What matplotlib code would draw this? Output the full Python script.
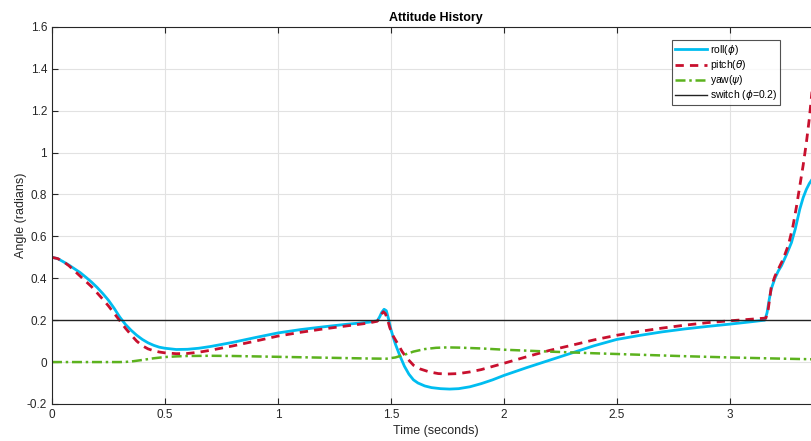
import matplotlib.pyplot as plt

plt.rcParams['font.family'] = ['Liberation Sans', 'DejaVu Sans']
plt.rcParams['mathtext.fontset'] = 'dejavusans'

# roll (phi)
t_roll = [0, 0.025, 0.05, 0.075, 0.1, 0.125, 0.15, 0.175, 0.2, 0.225, 0.25,
          0.275, 0.3, 0.325, 0.35, 0.375, 0.4, 0.425, 0.45, 0.475, 0.5, 0.55,
          0.6, 0.65, 0.7, 0.8, 0.9, 1.0, 1.1, 1.2, 1.3, 1.4, 1.44, 1.45, 1.46,
          1.47, 1.48, 1.49, 1.5, 1.51, 1.52, 1.54, 1.56, 1.58, 1.6, 1.62, 1.65,
          1.68, 1.72, 1.76, 1.8, 1.85, 1.9, 1.95, 2.0, 2.1, 2.2, 2.3, 2.4, 2.5,
          2.6, 2.7, 2.8, 2.9, 3.0, 3.1, 3.155, 3.165, 3.175, 3.184, 3.2, 3.215,
          3.229, 3.25, 3.273, 3.29, 3.31, 3.325, 3.339, 3.352, 3.363, 3.38]
roll = [0.5, 0.494, 0.479, 0.463, 0.445, 0.427, 0.405, 0.382, 0.356, 0.327,
        0.295, 0.257, 0.215, 0.18, 0.152, 0.128, 0.108, 0.092, 0.08, 0.071,
        0.066, 0.06, 0.061, 0.066, 0.074, 0.094, 0.117, 0.139, 0.155, 0.168,
        0.18, 0.19, 0.197, 0.215, 0.238, 0.252, 0.245, 0.205, 0.157, 0.12,
        0.086, 0.03, -0.02, -0.058, -0.085, -0.1, -0.114, -0.122, -0.127,
        -0.129, -0.127, -0.118, -0.103, -0.085, -0.064, -0.027, 0.008, 0.043,
        0.078, 0.108, 0.127, 0.144, 0.158, 0.17, 0.181, 0.193, 0.2, 0.235, 0.3,
        0.35, 0.4, 0.435, 0.46, 0.51, 0.57, 0.635, 0.73, 0.785, 0.824, 0.852,
        0.87, 0.895]

# pitch (theta)
t_pitch = [0, 0.025, 0.05, 0.075, 0.1, 0.125, 0.15, 0.175, 0.2, 0.225, 0.25,
           0.275, 0.3, 0.325, 0.35, 0.375, 0.4, 0.425, 0.45, 0.475, 0.5, 0.55,
           0.6, 0.65, 0.7, 0.8, 0.9, 1.0, 1.1, 1.2, 1.3, 1.4, 1.44, 1.45, 1.46,
           1.467, 1.475, 1.485, 1.495, 1.51, 1.53, 1.55, 1.57, 1.6, 1.63, 1.67,
           1.71, 1.75, 1.8, 1.85, 1.9, 2.0, 2.1, 2.2, 2.3, 2.4, 2.5, 2.6, 2.7,
           2.8, 2.9, 3.0, 3.1, 3.16, 3.17, 3.184, 3.2, 3.22, 3.236, 3.26, 3.28,
           3.295, 3.31, 3.325, 3.339, 3.352, 3.363, 3.38]
pitch = [0.5, 0.494, 0.48, 0.46, 0.435, 0.41, 0.385, 0.36, 0.33, 0.3, 0.268,
         0.233, 0.198, 0.162, 0.13, 0.1, 0.078, 0.063, 0.054, 0.048, 0.044,
         0.04, 0.041, 0.047, 0.056, 0.077, 0.1, 0.124, 0.142, 0.158, 0.172,
         0.186, 0.195, 0.21, 0.23, 0.24, 0.232, 0.205, 0.165, 0.125, 0.088,
         0.05, 0.02, -0.015, -0.033, -0.047, -0.055, -0.057, -0.055, -0.047,
         -0.036, -0.006, 0.025, 0.055, 0.08, 0.106, 0.128, 0.146, 0.162, 0.176,
         0.188, 0.197, 0.205, 0.21, 0.25, 0.36, 0.41, 0.455, 0.49, 0.56, 0.65,
         0.74, 0.84, 0.94, 1.046, 1.16, 1.28, 1.45]

# yaw (psi)
t_yaw = [0, 0.3, 0.33, 0.36, 0.4, 0.45, 0.5, 0.55, 0.6, 0.7, 0.8, 0.9, 1.0,
         1.1, 1.2, 1.3, 1.4, 1.48, 1.52, 1.56, 1.6, 1.65, 1.7, 1.75, 1.8, 1.9,
         2.0, 2.2, 2.4, 2.6, 2.8, 3.0, 3.2, 3.38]
yaw = [0, 0, 0.001, 0.004, 0.01, 0.018, 0.024, 0.027, 0.029, 0.03, 0.029,
       0.027, 0.025, 0.023, 0.021, 0.019, 0.017, 0.016, 0.022, 0.035, 0.05,
       0.062, 0.068, 0.07, 0.069, 0.065, 0.059, 0.05, 0.042, 0.035, 0.028,
       0.022, 0.017, 0.013]

switch_level = 0.2

fig = plt.figure(figsize=(8.12, 4.41), dpi=100)
ax = fig.add_axes([0.064, 0.084, 0.946, 0.855])

ax.plot(t_roll, roll, color='#00bdf0', linewidth=2.0, label=r'roll($\phi$)')
ax.plot(t_pitch, pitch, color='#c8102e', linewidth=2.0, linestyle=(0, (3, 2.2)),
        label=r'pitch($\theta$)')
ax.plot(t_yaw, yaw, color='#5cb21e', linewidth=1.8, linestyle=(0, (4, 1.5, 1, 1.5)),
        label=r'yaw($\psi$)')
ax.axhline(switch_level, color='#222222', linewidth=1.0,
           label=r'switch ($\phi$=0.2)')

ax.set_xlim(0, 3.4)
ax.set_ylim(-0.2, 1.6)
ax.set_xticks([0, 0.5, 1, 1.5, 2, 2.5, 3])
ax.set_xticklabels(['0', '0.5', '1', '1.5', '2', '2.5', '3'])
ax.set_yticks([-0.2, 0, 0.2, 0.4, 0.6, 0.8, 1, 1.2, 1.4, 1.6])
ax.set_yticklabels(['-0.2', '0', '0.2', '0.4', '0.6', '0.8', '1', '1.2', '1.4', '1.6'])
ax.tick_params(direction='in', length=4, labelsize=8.5, colors='#262626',
               top=True, right=True)
for s in ax.spines.values():
    s.set_color('#262626')
    s.set_linewidth(0.8)
ax.grid(color='#e2e2e2', linewidth=0.8)
ax.set_axisbelow(True)

ax.set_title('Attitude History', fontsize=9, fontweight='bold', pad=4)
ax.set_xlabel('Time (seconds)', fontsize=9, color='#262626', labelpad=3)
ax.set_ylabel('Angle (radians)', fontsize=9, color='#262626', labelpad=0)

leg = ax.legend(loc='upper right', bbox_to_anchor=(780 / 812, 1 - 40 / 441),
                bbox_transform=fig.transFigure, fontsize=7.5, frameon=True,
                fancybox=False, borderpad=0.3, labelspacing=0.1,
                handlelength=3.1, handletextpad=0.2, borderaxespad=0)
leg.get_frame().set_edgecolor('#262626')
leg.get_frame().set_linewidth(0.8)

fig.savefig('out.png', dpi=100)
